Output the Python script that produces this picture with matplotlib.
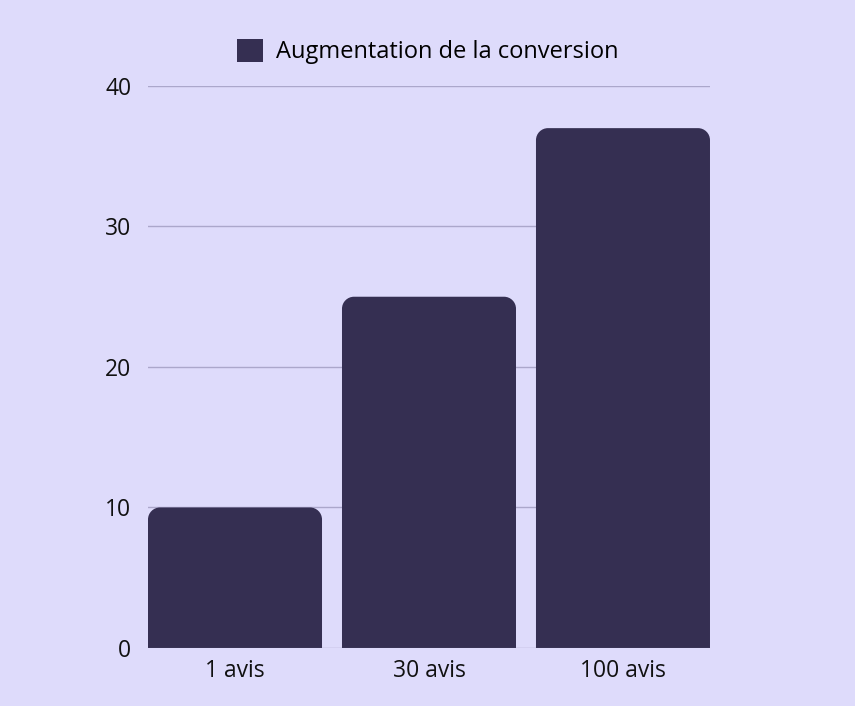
import matplotlib
matplotlib.use("Agg")
import matplotlib.pyplot as plt
from matplotlib.path import Path
from matplotlib.patches import PathPatch, Patch

categories = ["1 avis", "30 avis", "100 avis"]
values = [10, 25, 37]
series_name = "Augmentation de la conversion"
yticks = [0, 10, 20, 30, 40]

bg = "#DEDBFB"
bar_color = "#352F52"
grid_color = "#ABA7CB"

plt.rcParams['font.family'] = ['Open Sans', 'DejaVu Sans']

fig = plt.figure(figsize=(8.55, 7.06), dpi=100, facecolor=bg)
ax = fig.add_axes([0.1731, 0.0822, 0.6573, 0.796])
ax.set_facecolor(bg)

x = list(range(len(categories)))
bars = ax.bar(x, values, width=0.897, color=bar_color, zorder=3)
ax.set_xlim(-0.4485, len(categories) - 1 + 0.4485)
ax.set_ylim(0, 40)

# rounded top corners: radius in pixels converted to data units
fig.canvas.draw()
radius_px = 12
p0 = ax.transData.transform((0, 0))
p1 = ax.transData.transform((1, 1))
rx = radius_px / (p1[0] - p0[0])
ry = radius_px / (p1[1] - p0[1])
k = 0.5523
for b in bars:
    x0, y0 = b.get_x(), b.get_y()
    x1, y1 = x0 + b.get_width(), y0 + b.get_height()
    verts = [
        (x0, y0), (x0, y1 - ry),
        (x0, y1 - ry + k * ry), (x0 + rx - k * rx, y1), (x0 + rx, y1),
        (x1 - rx, y1),
        (x1 - rx + k * rx, y1), (x1, y1 - ry + k * ry), (x1, y1 - ry),
        (x1, y0), (x0, y0),
    ]
    codes = [Path.MOVETO, Path.LINETO,
             Path.CURVE4, Path.CURVE4, Path.CURVE4,
             Path.LINETO,
             Path.CURVE4, Path.CURVE4, Path.CURVE4,
             Path.LINETO, Path.CLOSEPOLY]
    ax.add_patch(PathPatch(Path(verts, codes), facecolor=bar_color,
                           edgecolor="none", zorder=3))
    b.set_visible(False)

ax.set_yticks(yticks)
ax.set_xticks(x)
ax.set_xticklabels(categories)
ax.yaxis.grid(True, color=grid_color, linewidth=1)
ax.set_axisbelow(True)
for s in ax.spines.values():
    s.set_visible(False)
ax.tick_params(axis="y", length=0, pad=12, labelsize=16.5, labelcolor="#111111")
ax.tick_params(axis="x", length=0, pad=8, labelsize=16.5, labelcolor="#111111")

ax.legend(handles=[Patch(facecolor=bar_color, label=series_name)],
          loc="center", bbox_to_anchor=(0.5, 0.927),
          bbox_transform=fig.transFigure, frameon=False, fontsize=17,
          handlelength=1.1, handleheight=1.1, handletextpad=0.55)

fig.savefig("out.png", dpi=100, facecolor=bg)
